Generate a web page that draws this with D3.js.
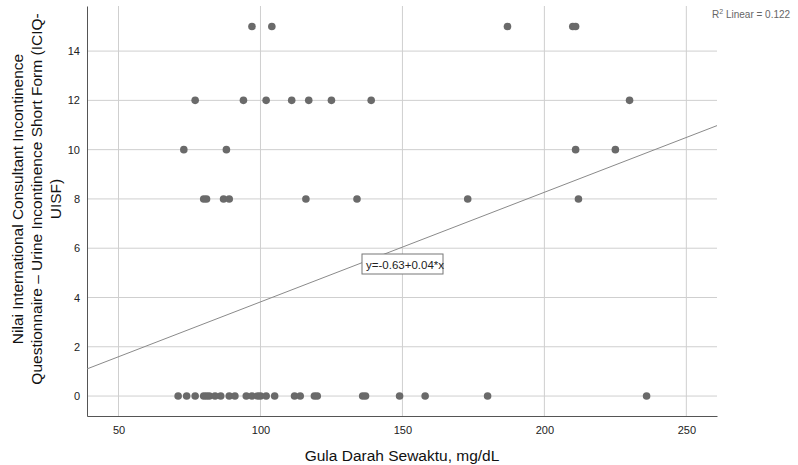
<!DOCTYPE html>
<meta charset="utf-8">
<head>
  <title>Scatter ICIQ-UISF</title>
  <script src="https://d3js.org/d3.v7.min.js"></script>
  <style>
    body { margin: 0; background: #fff; }
    text { font-family: "Liberation Sans", Arial, sans-serif; }
  </style>
</head>
<body>
<div id="display"></div>
<script>
  // data
  var gula = [97, 104, 187, 210, 211,
              77, 94, 102, 111, 117, 125, 139, 230,
              73, 88, 211, 225,
              80, 81, 87, 89, 116, 134, 173, 212,
              71, 74, 77, 80, 81, 82, 84, 86, 89, 91, 95, 97, 99, 100, 102, 105,
              112, 114, 119, 120, 136, 137, 149, 158, 180, 236];
  var skor = [15, 15, 15, 15, 15,
              12, 12, 12, 12, 12, 12, 12, 12,
              10, 10, 10, 10,
              8, 8, 8, 8, 8, 8, 8, 8,
              0, 0, 0, 0, 0, 0, 0, 0, 0, 0, 0, 0, 0, 0, 0, 0,
              0, 0, 0, 0, 0, 0, 0, 0, 0, 0];
  var xTicks = [50, 100, 150, 200, 250];
  var yTicks = [0, 2, 4, 6, 8, 10, 12, 14];
  var intercept = -0.63, slope = 0.0445;

  var width = 798, height = 465;
  var margin = {left: 87, right: 717, top: 6, bottom: 416};

  var svg = d3.select("#display").append("svg")
      .attr("width", width)
      .attr("height", height);

  var x = d3.scaleLinear().domain([38.9, 260.8]).range([margin.left, margin.right]);
  var y = d3.scaleLinear().domain([-0.81, 15.83]).range([margin.bottom, margin.top]);

  // grid
  svg.append("g").selectAll("line").data(xTicks).enter().append("line")
      .attr("x1", function(d) { return x(d); })
      .attr("x2", function(d) { return x(d); })
      .attr("y1", margin.top).attr("y2", margin.bottom)
      .attr("stroke", "#cfcfcf");
  svg.append("g").selectAll("line").data(yTicks).enter().append("line")
      .attr("y1", function(d) { return y(d); })
      .attr("y2", function(d) { return y(d); })
      .attr("x1", margin.left).attr("x2", margin.right)
      .attr("stroke", "#cfcfcf");

  // axes
  var xAxis = svg.append("g")
      .attr("transform", "translate(0," + margin.bottom + ")")
      .call(d3.axisBottom(x).tickValues(xTicks).tickSize(0).tickPadding(10));
  xAxis.select(".domain").attr("stroke", "#555");
  xAxis.selectAll("text").style("font-size", "11px").attr("fill", "#222");

  var yAxis = svg.append("g")
      .attr("transform", "translate(" + margin.left + ",0)")
      .call(d3.axisLeft(y).tickValues(yTicks).tickSize(0).tickPadding(7));
  yAxis.select(".domain").attr("stroke", "#555");
  yAxis.selectAll("text").style("font-size", "11px").attr("fill", "#222");

  // fit line
  var x0 = x.domain()[0], x1 = x.domain()[1];
  svg.append("line")
      .attr("x1", x(x0)).attr("y1", y(intercept + slope * x0))
      .attr("x2", x(x1)).attr("y2", y(intercept + slope * x1))
      .attr("stroke", "#8a8a8a")
      .attr("stroke-width", 1);

  // points
  svg.append("g").selectAll("circle").data(gula).enter().append("circle")
      .attr("cx", function(d) { return x(d); })
      .attr("cy", function(d, i) { return y(skor[i]); })
      .attr("r", 3.8)
      .attr("fill", "#6a6a6a");

  // equation label
  var eq = svg.append("g").attr("transform", "translate(362,254)");
  eq.append("rect").attr("width", 81).attr("height", 20)
      .attr("fill", "#fff").attr("stroke", "#777");
  eq.append("text").attr("x", 4).attr("y", 14.5)
      .style("font-size", "11.5px").attr("fill", "#222")
      .text("y=-0.63+0.04*x");

  // R2 label
  var r2 = svg.append("text").attr("x", 712).attr("y", 18)
      .style("font-size", "10px").attr("fill", "#666");
  r2.append("tspan").text("R");
  r2.append("tspan").attr("dy", -4).style("font-size", "7px").text("2");
  r2.append("tspan").attr("dy", 4).text(" Linear = 0.122");

  // axis titles
  svg.append("text")
      .attr("x", (margin.left + margin.right) / 2).attr("y", 461)
      .attr("text-anchor", "middle")
      .style("font-size", "15.5px").attr("fill", "#111")
      .text("Gula Darah Sewaktu, mg/dL");

  var yt = svg.append("text")
      .attr("transform", "translate(23,199) rotate(-90)")
      .attr("text-anchor", "middle")
      .style("font-size", "15.5px").attr("fill", "#111");
  yt.append("tspan").attr("x", 0).attr("dy", 0).text("Nilai International Consultant Incontinence");
  yt.append("tspan").attr("x", 0).attr("dy", 19).text("Questionnaire \u2013 Urine Incontinence Short Form (ICIQ-");
  yt.append("tspan").attr("x", 0).attr("dy", 19).text("UISF)");
</script>
</body>
